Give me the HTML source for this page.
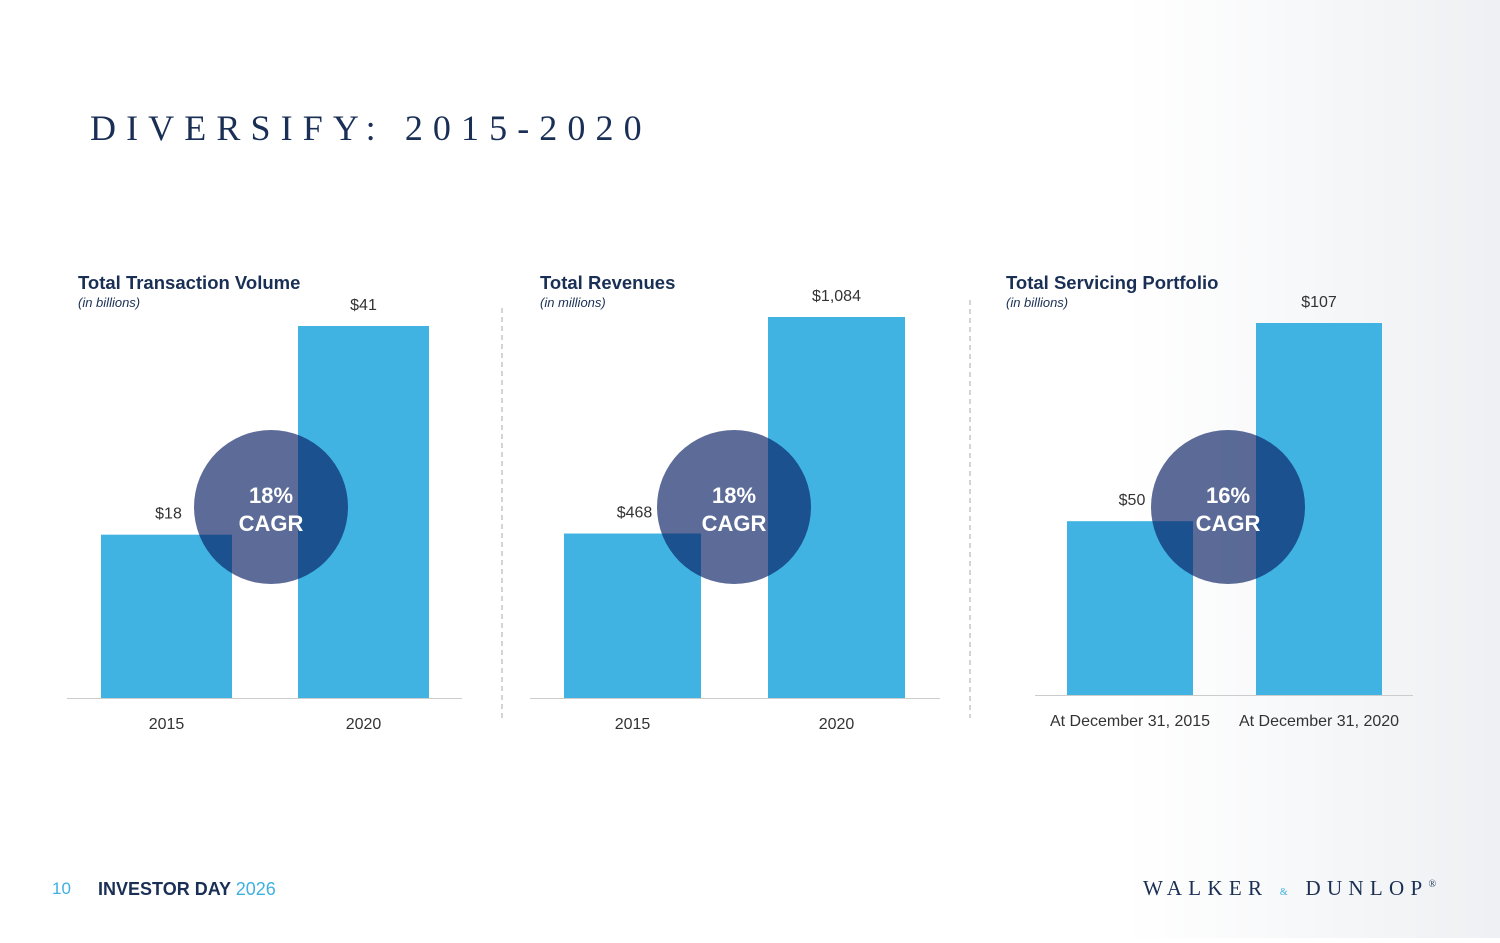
<!DOCTYPE html>
<html><head><meta charset="utf-8"><style>
body{margin:0;width:1500px;height:938px;background:#fff;overflow:hidden;font-family:"Liberation Sans",sans-serif;}
svg text{font-family:"Liberation Sans",sans-serif;}
</style></head><body>
<svg id="s" width="1500" height="938">
<defs><linearGradient id="bg" x1="0" y1="0" x2="1" y2="0"><stop offset="0.75" stop-color="#fff"/><stop offset="1" stop-color="#eef0f3"/></linearGradient></defs>
<rect width="1500" height="938" fill="url(#bg)"/>
<text x="90" y="140" font-size="36" letter-spacing="10.1" fill="#1a2f55" style="font-family:'Liberation Serif',serif">DIVERSIFY: 2015-2020</text>
<line x1="502" y1="308" x2="502" y2="718" stroke="#aaa" stroke-dasharray="5,4"/>
<line x1="970" y1="300" x2="970" y2="718" stroke="#aaa" stroke-dasharray="5,4"/>
<g id="charts"></g>
<text x="52" y="894" font-size="17" fill="#3fb0e0">10</text>
<text x="98" y="895" font-size="18" font-weight="bold" fill="#1a2f55">INVESTOR DAY <tspan font-weight="normal" fill="#3fb0e0">2026</tspan></text>
<text x="1143" y="895" font-size="21" letter-spacing="6.3" fill="#1a2f55" style="font-family:'Liberation Serif',serif">WALKER <tspan font-size="10" fill="#3fb0e0">&amp;</tspan> DUNLOP<tspan font-size="10" dy="-8">®</tspan></text>
</svg>
<script>
const titles=["Total Transaction Volume","Total Revenues","Total Servicing Portfolio"];
const units=["(in billions)","(in millions)","(in billions)"];
const categories=[["2015","2020"],["2015","2020"],["At December 31, 2015","At December 31, 2020"]];
const values=[[18,41],[468,1084],[50,107]];
const valueLabels=[["$18","$41"],["$468","$1,084"],["$50","$107"]];
const cagrs=["18%","18%","16%"];
const L=[
 {tx:78,ax0:67,ax1:462,base:698,bx:[101,298],bw:131,maxH:372,cx:271},
 {tx:540,ax0:530,ax1:940,base:698,bx:[564,768],bw:137,maxH:381,cx:734},
 {tx:1006,ax0:1035,ax1:1413,base:695,bx:[1067,1256],bw:126,maxH:372,cx:1228}];
const NS="http://www.w3.org/2000/svg",g=document.getElementById('charts');
function mk(t,a,txt){const e=document.createElementNS(NS,t);for(const k in a)e.setAttribute(k,a[k]);if(txt!=null)e.textContent=txt;g.appendChild(e);return e;}
values.forEach((vals,i)=>{
 const l=L[i],mx=Math.max(...vals),y=v=>l.base-v/mx*l.maxH;
 let e=mk('text',{x:l.tx,y:289,'font-size':18.5,'font-weight':'bold',fill:'#1a2f55'},titles[i]);
 
 e=mk('text',{x:l.tx,y:307,'font-size':13,'font-style':'italic',fill:'#1a2f55'},units[i]);
 
 vals.forEach((v,j)=>{
  e=mk('rect',{x:l.bx[j],y:y(v),width:l.bw,height:l.base-y(v),fill:'#41b3e3'});
  
  e=mk('text',{x:l.bx[j]+l.bw/2+(j==0?2:0),y:y(v)-16,'font-size':16,fill:'#333','text-anchor':'middle'},valueLabels[i][j]);
  
  e=mk('text',{x:l.bx[j]+l.bw/2,y:l.base+31,'font-size':16,fill:'#333','text-anchor':'middle'},categories[i][j]);
  
 });
 e=mk('line',{x1:l.ax0,x2:l.ax1,y1:l.base+0.5,y2:l.base+0.5,stroke:'#ccc','stroke-width':1});
 
 e=mk('circle',{cx:l.cx,cy:507,r:77,fill:'rgb(8,30,97)','fill-opacity':0.66});
 
 e=mk('text',{x:l.cx,y:503,'font-size':22,'font-weight':'bold',fill:'#fff','text-anchor':'middle'},cagrs[i]);
 
 e=mk('text',{x:l.cx,y:531,'font-size':22,'font-weight':'bold',fill:'#fff','text-anchor':'middle'},'CAGR');
 
});
</script>
</body></html>
